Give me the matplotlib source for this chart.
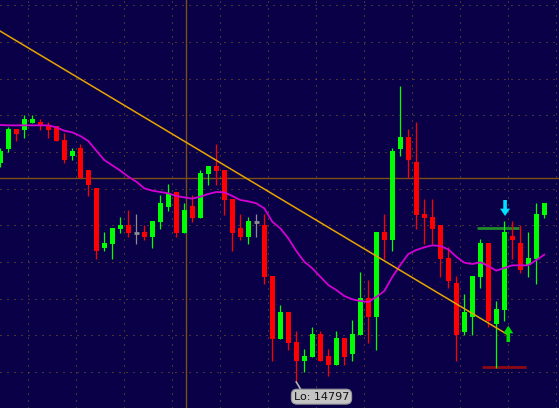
import matplotlib.pyplot as plt
import numpy as np
from matplotlib.patches import FancyArrow

# candle data (oldest first)
opens = [15125.5, 15146.5, 15176.5, 15175, 15185.5, 15187, 15182.5, 15181, 15160, 15136,
         15148, 15115, 15088, 14998, 15004, 15026.5, 15032.5, 15020.5, 15022, 15014.5,
         15037, 15059.5, 15082, 15020.5, 15061, 15043, 15109, 15121, 15115, 15071.5,
         15028, 15014.5, 15037, 15032.5, 14956, 14861.5, 14902, 14857, 14828.5, 14834.5,
         14869, 14836, 14822.5, 14863, 14839, 14867.5, 14923, 14894.5, 15022, 15010,
         15146.5, 15164.5, 15127, 15049, 15044.5, 15032.5, 14983, 14945.5, 14872, 14894.5,
         14954.5, 15005.5, 14884, 14905, 15016, 15005.5, 14972.5, 14981.5, 15047.5]
highs = [15148, 15179.5, 15176.5, 15197.5, 15197.5, 15191.5, 15187, 15181, 15170.5, 15148,
         15154, 15115, 15088, 15022, 15028, 15044.5, 15055, 15049, 15032.5, 15038.5,
         15077.5, 15094, 15082, 15065.5, 15077.5, 15115, 15121, 15154, 15115, 15071.5,
         15049, 15044.5, 15049, 15049, 14956, 14912.5, 14902, 14873.5, 14846.5, 14879.5,
         14873.5, 14846.5, 14873.5, 14863, 14890, 14962, 14950, 15022, 15049, 15148,
         15241, 15176.5, 15187, 15071.5, 15071.5, 15032.5, 14999.5, 14956, 14929, 14956,
         15011.5, 15005.5, 14918.5, 15038.5, 15038.5, 15032.5, 15022, 15065.5, 15065.5]
lows = [15119.5, 15142, 15158.5, 15163, 15185.5, 15175, 15163, 15158.5, 15125.5, 15130,
        15103, 15076, 14981.5, 14993.5, 14981.5, 15020.5, 15014.5, 15004, 15010, 14998,
        15026.5, 15053.5, 15014.5, 15020.5, 15037, 15043, 15092.5, 15092.5, 15047.5, 14993.5,
        15010, 15004, 15014.5, 14944, 14828.5, 14861.5, 14845, 14797, 14812, 14834.5,
        14828.5, 14806, 14822.5, 14822.5, 14828.5, 14867.5, 14855.5, 14845, 14981.5, 14993.5,
        15136, 15103, 15026.5, 15004, 15004, 14954.5, 14938, 14828.5, 14867.5, 14867.5,
        14938, 14879.5, 14818, 14888.5, 14981.5, 14960.5, 14954.5, 14944, 15043]
closes = [15143.5, 15176.5, 15169, 15191.5, 15191.5, 15181, 15175, 15158.5, 15130, 15143.5,
          15103, 15092.5, 14993.5, 15005.5, 15028, 15032.5, 15020.5, 15020.5, 15014.5, 15038.5,
          15065.5, 15080.5, 15020.5, 15055, 15043, 15110.5, 15121, 15113.5, 15070, 15020.5,
          15014.5, 15038.5, 15037, 14954.5, 14861.5, 14902, 14855.5, 14828.5, 14836, 14869,
          14828.5, 14822.5, 14863, 14834.5, 14869, 14923, 14894.5, 15022, 15010, 15143.5,
          15164.5, 15130, 15047.5, 15043, 15026.5, 14981.5, 14948.5, 14867.5, 14902, 14956,
          15005.5, 14888.5, 14906.5, 15022, 15010, 14965, 14983, 15049, 15065.5]

# moving average as drawn on the chart
ma = [15182.5, 15182, 15182, 15182, 15182, 15182, 15182, 15179, 15174, 15171.5,
      15166, 15158.5, 15144, 15130, 15122, 15114, 15105, 15097.5, 15087.5, 15084,
      15082, 15080, 15076, 15074, 15072, 15075, 15079, 15082, 15081.5, 15076,
      15070, 15068, 15065, 15057.5, 15037.5, 15027.5, 15012.5, 14993.5, 14977.5, 14967.5,
      14955, 14942.5, 14935, 14926, 14921, 14918.5, 14917, 14924.5, 14933.5, 14954.5,
      14972.5, 14989, 14995, 14999, 15002, 15001, 14996, 14985, 14976, 14974,
      14976.5, 14971, 14964, 14968, 14972, 14972, 14972, 14980, 14988]

# drawn objects
trend_x = [-0.04, 63.3]
trend_y = [15323.5, 14869]
cross_x = 23.25
cross_y = 15102.5
green_line_x = [59.55, 64.8]
green_line_y = 15028.5
red_line_x = [60.2, 65.7]
red_line_y = 14820
low_idx = 37
low_label = "Lo: 14797"

bg = '#0a0048'
n = len(opens)
x = np.arange(n)

fig = plt.figure(figsize=(5.59, 4.08), dpi=100)
fig.patch.set_facecolor(bg)
ax = fig.add_axes([0, 0, 1, 1])
ax.set_facecolor(bg)

# dotted grid
for gx in np.arange(3.5, 70, 6):
    ax.axvline(gx, color='#8a6420', lw=0.72, ls=(0, (1, 6)), zorder=0)
for gy in np.arange(15362, 14700, -55):
    ax.axhline(gy, color='#8a6420', lw=0.72, ls=(0, (1, 6)), zorder=0)

# crosshair
ax.axvline(cross_x, color='#7a4e14', lw=1.0, zorder=1)
ax.axhline(cross_y, color='#7a4e14', lw=1.0, zorder=1)

# candles
for i in range(n):
    o, h, l, c = opens[i], highs[i], lows[i], closes[i]
    if c > o:
        col = '#00ff00'
    elif c < o:
        col = '#ff0000'
    else:
        col = '#8c8c8c'
    ax.vlines(i, l, h, color=col, lw=0.9, zorder=3)
    bot, top = min(o, c), max(o, c)
    if top - bot < 2:
        ax.hlines(o, i - 0.3, i + 0.3, color=col, lw=2.0, zorder=3)
    else:
        ax.bar(i, top - bot, bottom=bot, width=0.62, color=col, lw=0, zorder=3)

ax.plot(x, ma, color='#d200d2', lw=1.3, zorder=4)
ax.plot(trend_x, trend_y, color='#e6a400', lw=1.1, zorder=5)

ax.hlines(green_line_y, green_line_x[0], green_line_x[1], color='#1e8c28', lw=2.0, zorder=2)
ax.hlines(red_line_y, red_line_x[0], red_line_x[1], color='#8c0a14', lw=2.0, zorder=2)

# signal arrows
ax.add_patch(FancyArrow(63.1, 15070, 0, -13, width=0.45, head_width=1.25, head_length=11,
                        length_includes_head=False, color='#00e0ff', lw=0, zorder=6))
ax.add_patch(FancyArrow(63.5, 14857, 0, 13, width=0.45, head_width=1.25, head_length=11.5,
                        length_includes_head=False, color='#00e000', lw=0, zorder=6))

# low label
ax.plot([low_idx, low_idx + 0.55], [lows[low_idx], lows[low_idx] - 11], color='#b4b4b4', lw=1.2, zorder=6)
ax.text(40.15, 14775, low_label, fontsize=8, color='#101010', ha='center', va='center', zorder=7,
        bbox=dict(boxstyle='round,pad=0.22,rounding_size=0.5', fc='#c4c4c4', ec='#9a9a9a', lw=0.8))

ax.set_xlim(-0.0375, 69.84)
ax.set_ylim(14758, 15370)
ax.axis('off')

plt.savefig('out.png', dpi=100, facecolor=bg)
